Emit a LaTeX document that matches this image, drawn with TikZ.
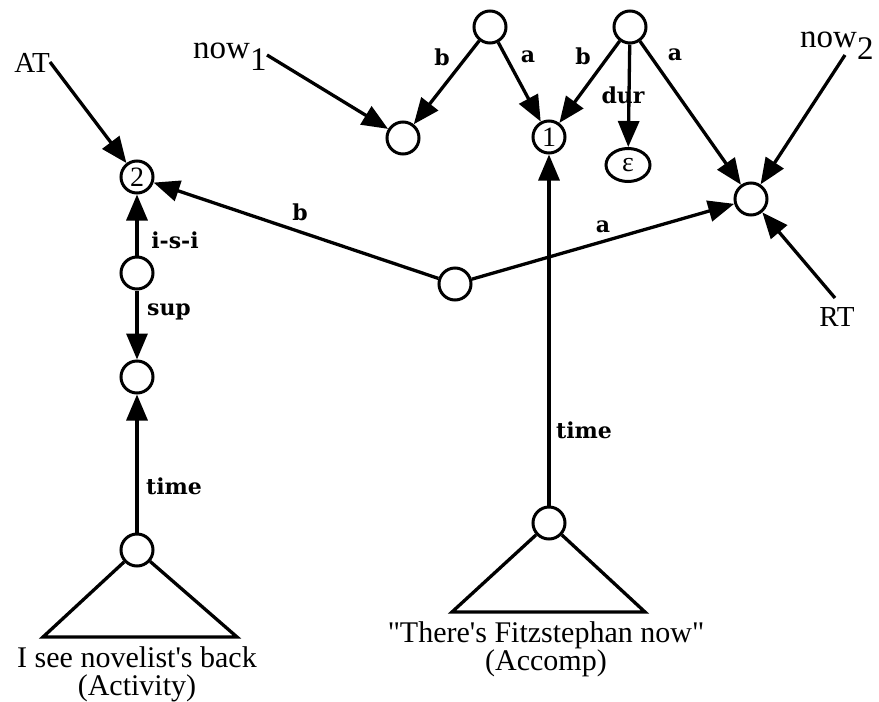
\documentclass[tikz,border=0pt]{standalone}
\usepackage{fontspec}
\setmainfont{Liberation Serif}
\newfontfamily\labelfont{DejaVu Serif}
\usetikzlibrary{arrows.meta,shapes.geometric}
\begin{document}
\begin{tikzpicture}[x=1pt,y=-1pt,
  every node/.style={inner sep=0pt},
  vtx/.style={circle,draw,line width=3pt,minimum size=32pt,font=\fontsize{28}{28}\selectfont},
  edge/.style={line width=3.3pt,-{Triangle[length=26pt,width=21pt]}},
  plain/.style={line width=3.3pt,line join=miter},
  lbl/.style={font=\labelfont\bfseries\fontsize{22}{22}\selectfont},
  tag/.style={font=\fontsize{29}{29}\selectfont},
  nowtag/.style={font=\fontsize{33}{33}\selectfont,anchor=base west},
  caption/.style={font=\fontsize{30}{28}\selectfont,align=center}
]
\useasboundingbox (0,0) rectangle (879,702);

% vertices
\node[vtx] (n2)  at (137,177) {2};
\node[vtx] (isi) at (137,273) {};
\node[vtx] (sc)  at (137,377) {};
\node[vtx] (la)  at (137,550) {};
\node[vtx] (ra)  at (549,523) {};
\node[vtx] (m)   at (455,284) {};
\node[vtx] (n1)  at (403,138) {};
\node[vtx] (t1)  at (490,27)  {};
\node[vtx] (t2)  at (630,27)  {};
\node[vtx] (one) at (549,137) {1};
\node[vtx,ellipse,minimum width=44pt,minimum height=33pt] (eps) at (628,165) {ε};
\node[vtx] (rt)  at (751,199) {};

% outside labels
\node[tag] (AT) at (32,63) {AT};
\node[tag] (RT) at (837,317) {RT};
\node[nowtag] (now1) at (193,58) {now\raisebox{-12pt}{1}};
\node[nowtag] (now2) at (800,47) {now\raisebox{-12pt}{2}};
\coordinate (ATe)   at (50,62);
\coordinate (now1e) at (267,55);
\coordinate (now2e) at (845,55);
\coordinate (RTn)   at (835,298);

% triangles under the sentence vertices
\coordinate (laL) at (43,637);
\coordinate (laR) at (237,637);
\coordinate (raL) at (452,612);
\coordinate (raR) at (645,612);
\draw[plain] (la) -- (laL) -- (laR) -- (la);
\draw[plain] (ra) -- (raL) -- (raR) -- (ra);

% connectors
\draw[edge] (ATe) -- (n2);
\draw[edge] (now1e) -- (n1);
\draw[edge] (now2e) -- (rt);
\draw[edge] (RTn) -- (rt);
\draw[edge] (t1) -- (n1);
\draw[edge] (t1) -- (one);
\draw[edge] (t2) -- (one);
\draw[edge] (t2) -- (eps);
\draw[edge] (t2) -- (rt);
\draw[edge] (m) -- (n2);
\draw[edge] (m) -- (rt);
\draw[edge] (isi) -- (n2);
\draw[edge] (isi) -- (sc);
\draw[edge] (la) -- (sc);
\draw[edge] (ra) -- (one);

% connector labels
\node[lbl] (lb1) at (442,57) {b};
\node[lbl] (la1) at (528,57) {a};
\node[lbl] (lb2) at (583,56) {b};
\node[lbl] (ldur) at (623,95) {dur};
\node[lbl] (la2) at (675,55) {a};
\node[lbl] (lbm) at (300,212) {b};
\node[lbl] (lam) at (603,227) {a};
\node[lbl] (lisi) at (175,240) {i-s-i};
\node[lbl] (lsup) at (169,312) {sup};
\node[lbl] (ltl) at (174,486) {time};
\node[lbl] (ltr) at (584,430) {time};

% sentence captions
\node[caption] (capL) at (137,674) {I see novelist\textquotesingle s back\\(Activity)};
\node[caption] (capR) at (546,649) {\textquotedbl There\textquotesingle s Fitzstephan now\textquotedbl\\(Accomp)};
\end{tikzpicture}
\end{document}
